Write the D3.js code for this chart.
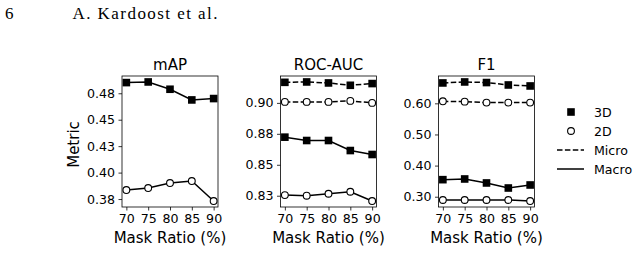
<!DOCTYPE html>
<html>
<head>
<meta charset="utf-8">
<script src="https://cdn.jsdelivr.net/npm/d3@7"></script>
<style>
  body { margin: 0; background: #fff; }
  svg { display: block; }
  text { font-family: "DejaVu Sans", sans-serif; fill: #000; }
</style>
</head>
<body>
<svg id="chart" width="639" height="253"></svg>
<script>
// data
var maskRatios = [70, 75, 80, 85, 90];

var map3dMacro = [0.4851, 0.4857, 0.4788, 0.4687, 0.4700];
var map2dMacro = [0.3835, 0.3854, 0.3901, 0.3920, 0.3731];

var roc3dMicro = [0.9166, 0.9169, 0.9161, 0.9142, 0.9156];
var roc2dMicro = [0.9008, 0.9008, 0.9008, 0.9016, 0.9000];
var roc3dMacro = [0.8723, 0.8696, 0.8696, 0.8615, 0.8583];
var roc2dMacro = [0.8255, 0.8250, 0.8266, 0.8282, 0.8207];

var f13dMicro = [0.6655, 0.6687, 0.6668, 0.6590, 0.6558];
var f12dMicro = [0.6065, 0.6055, 0.6023, 0.6023, 0.6023];
var f13dMacro = [0.3548, 0.3570, 0.3442, 0.3280, 0.3377];
var f12dMacro = [0.2894, 0.2894, 0.2894, 0.2894, 0.2861];

var mapTicks = [0.375, 0.40, 0.425, 0.45, 0.475];
var mapTickLabels = ['0.38', '0.40', '0.43', '0.45', '0.48'];
var rocTicks = [0.825, 0.85, 0.875, 0.90];
var rocTickLabels = ['0.83', '0.85', '0.88', '0.90'];
var f1Ticks = [0.30, 0.40, 0.50, 0.60];
var f1TickLabels = ['0.30', '0.40', '0.50', '0.60'];

var svg = d3.select('#chart');

// page header
svg.append('text').attr('x', 5).attr('y', 18.5)
    .style('font-family', '"Liberation Serif", serif').style('font-size', '17px').text('6');
svg.append('text').attr('x', 72.5).attr('y', 18.5)
    .style('font-family', '"Liberation Serif", serif').style('font-size', '17px')
    .attr('textLength', 145).text('A. Kardoost et al.');

var plotTop = 76, plotBottom = 207, panelW = 96;
var panels = [
    {title: 'mAP', left: 122, ticks: mapTicks, labels: mapTickLabels, ylabel: 'Metric',
     series: [
        {vals: map3dMacro, filled: true, dashed: false},
        {vals: map2dMacro, filled: false, dashed: false}]},
    {title: 'ROC-AUC', left: 280.5, ticks: rocTicks, labels: rocTickLabels,
     series: [
        {vals: roc3dMicro, filled: true, dashed: true},
        {vals: roc2dMicro, filled: false, dashed: true},
        {vals: roc3dMacro, filled: true, dashed: false},
        {vals: roc2dMacro, filled: false, dashed: false}]},
    {title: 'F1', left: 438.5, ticks: f1Ticks, labels: f1TickLabels,
     series: [
        {vals: f13dMicro, filled: true, dashed: true},
        {vals: f12dMicro, filled: false, dashed: true},
        {vals: f13dMacro, filled: true, dashed: false},
        {vals: f12dMacro, filled: false, dashed: false}]}
];

function drawMarker(sel, filled, x, y) {
    if (filled) {
        sel.append('rect').attr('x', x - 3.8).attr('y', y - 3.8)
            .attr('width', 7.6).attr('height', 7.6).attr('fill', '#000');
    } else {
        sel.append('circle').attr('cx', x).attr('cy', y).attr('r', 3.4)
            .attr('fill', '#fff').attr('stroke', '#000').attr('stroke-width', 1.1);
    }
}

panels.forEach(function(p) {
    var g = svg.append('g');
    var xScale = d3.scaleLinear().domain([69, 91]).range([p.left, p.left + panelW]);
    var all = [];
    p.series.forEach(function(s) { all = all.concat(s.vals); });
    var lo = d3.min(all), hi = d3.max(all), pad = (hi - lo) * 0.05;
    var yScale = d3.scaleLinear().domain([lo - pad, hi + pad]).range([plotBottom, plotTop]);

    // axes
    var xAxis = d3.axisBottom(xScale).tickValues(maskRatios).tickSize(3.5).tickPadding(3.5);
    var yAxis = d3.axisLeft(yScale).tickValues(p.ticks).tickSize(3.5).tickPadding(3.5)
        .tickFormat(function(d, i) { return p.labels[i]; });
    var gx = g.append('g').attr('transform', 'translate(0,' + plotBottom + ')').call(xAxis);
    var gy = g.append('g').attr('transform', 'translate(' + p.left + ',0)').call(yAxis);
    [gx, gy].forEach(function(a) {
        a.select('.domain').remove();
        a.selectAll('line').attr('stroke', '#000').attr('stroke-width', 0.8);
        a.selectAll('text').style('font-family', '"DejaVu Sans", sans-serif')
            .style('font-size', '12.6px').attr('fill', '#000');
    });

    // lines + markers
    p.series.forEach(function(s) {
        var line = d3.line().x(function(d, i) { return xScale(maskRatios[i]); })
            .y(function(d) { return yScale(d); });
        g.append('path').datum(s.vals).attr('d', line).attr('fill', 'none')
            .attr('stroke', '#000').attr('stroke-width', 1.5)
            .attr('stroke-dasharray', s.dashed ? '5.5,2.4' : null);
        s.vals.forEach(function(v, i) {
            drawMarker(g, s.filled, xScale(maskRatios[i]), yScale(v));
        });
    });

    g.append('rect').attr('x', p.left).attr('y', plotTop).attr('width', panelW)
        .attr('height', plotBottom - plotTop).attr('fill', 'none')
        .attr('stroke', '#000').attr('stroke-width', 0.8);

    g.append('text').attr('x', p.left + panelW / 2).attr('y', 70)
        .attr('text-anchor', 'middle').style('font-size', '15px').text(p.title);
    g.append('text').attr('x', p.left + panelW / 2).attr('y', 243)
        .attr('text-anchor', 'middle').style('font-size', '15px').text('Mask Ratio (%)');
    if (p.ylabel) {
        g.append('text').attr('transform', 'translate(79,' + ((plotTop + plotBottom) / 2 + 3) + ') rotate(-90)')
            .attr('text-anchor', 'middle').style('font-size', '15px').text(p.ylabel);
    }
});

// legend
var legendItems = [
    {label: '3D', kind: 'square'},
    {label: '2D', kind: 'circle'},
    {label: 'Micro', kind: 'dash'},
    {label: 'Macro', kind: 'solid'}
];
var lg = svg.append('g');
legendItems.forEach(function(it, i) {
    var y = 112 + i * 19;
    if (it.kind === 'square') drawMarker(lg, true, 571, y);
    else if (it.kind === 'circle') drawMarker(lg, false, 571, y);
    else {
        lg.append('line').attr('x1', 557).attr('x2', 584).attr('y1', y).attr('y2', y)
            .attr('stroke', '#000').attr('stroke-width', 1.5)
            .attr('stroke-dasharray', it.kind === 'dash' ? '5.5,2.4' : null);
    }
    lg.append('text').attr('x', 594).attr('y', y).attr('dy', '0.36em')
        .style('font-size', '12.6px').text(it.label);
});
</script>
</body>
</html>
